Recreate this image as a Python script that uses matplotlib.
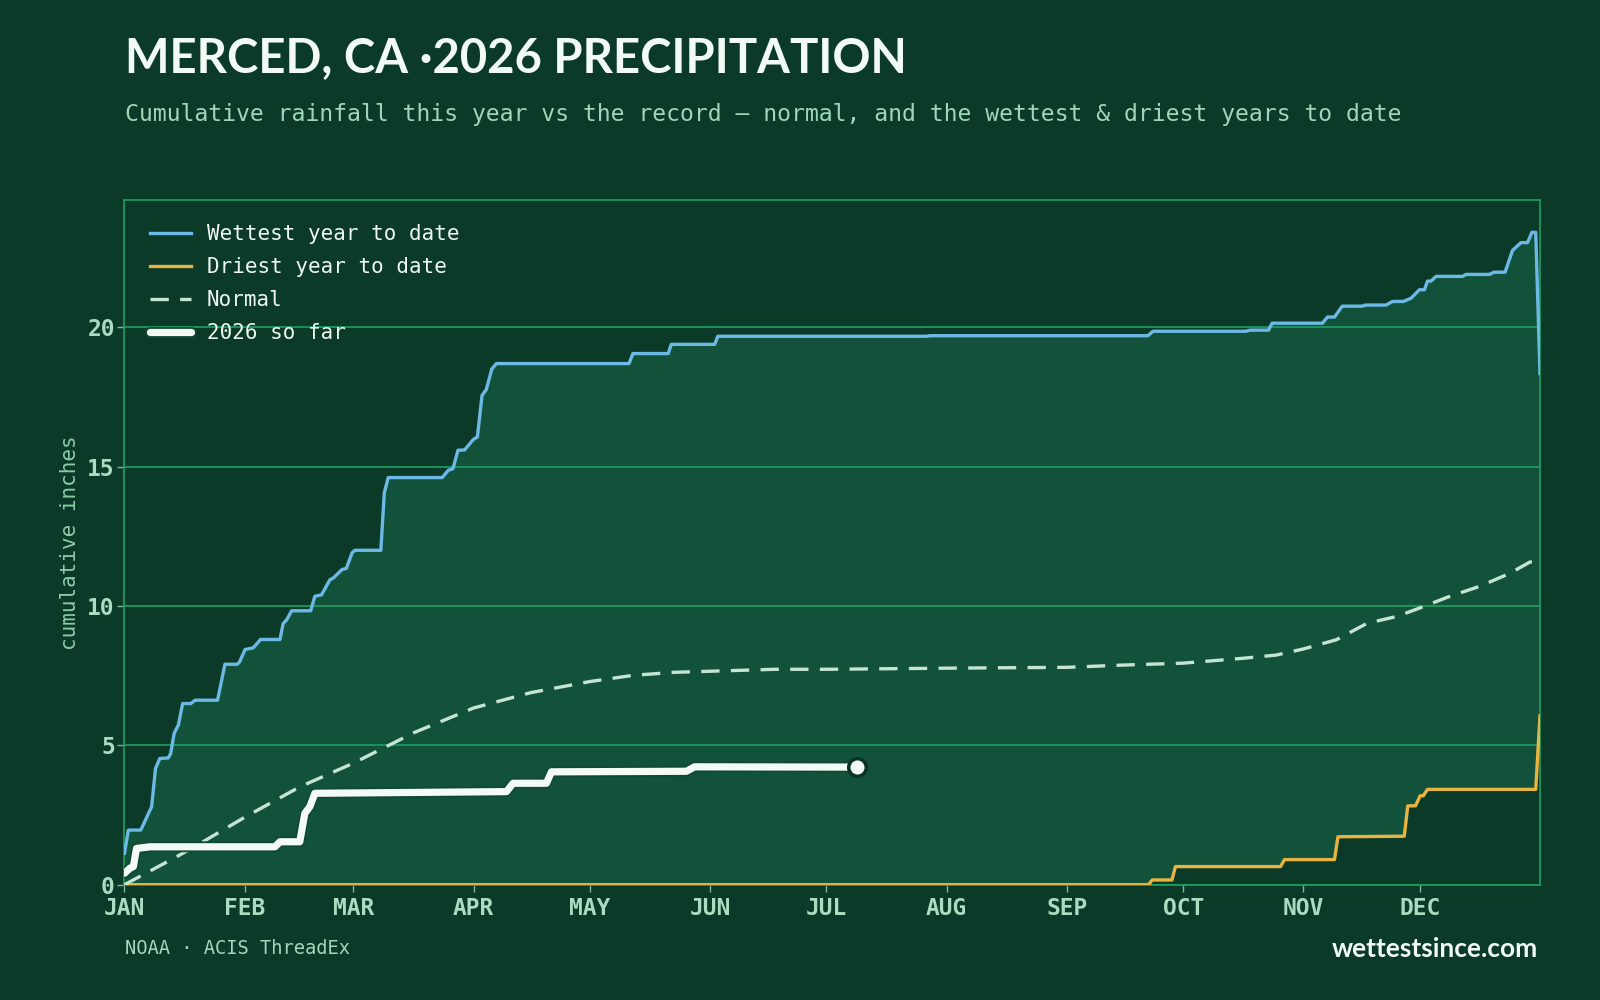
import matplotlib
matplotlib.use("Agg")
import matplotlib.pyplot as plt
import matplotlib.patheffects as pe
import numpy as np

# ---------------- data (day of year, cumulative inches) ----------------
wet_days = [0, 1.0, 4.2, 7.0, 8.0, 9.1, 11.3, 11.9, 12.8, 13.9, 15.0, 17.1, 18.2, 24.0,
            25.9, 29.1, 29.7, 31.1, 33.2, 35.1, 40.1, 40.9, 41.8, 43.1, 48.0, 49.1, 50.8,
            53.0, 53.8, 56.1, 57.2, 58.7, 59.4, 66.1, 67.0, 68.0, 81.9, 83.5, 84.7, 86.0,
            87.7, 89.9, 91.0, 92.2, 93.3, 94.7, 95.9, 130.1, 131.1, 140.2, 141.0, 152.2,
            153.0, 206.7, 207.8, 263.9, 265.2, 289.2, 290.2, 295.0, 295.9, 308.9, 310.2,
            312.0, 314.0, 319.2, 320.0, 325.3, 327.0, 329.8, 331.8, 333.9, 335.2, 336.0,
            336.9, 338.2, 345.1, 345.9, 351.9, 353.2, 356.0, 357.9, 360.1, 361.8, 362.9,
            363.9, 365]
wet_vals = [1.13, 1.96, 1.96, 2.80, 4.17, 4.53, 4.55, 4.70, 5.43, 5.73, 6.50, 6.50, 6.62, 6.62,
            7.91, 7.91, 8.00, 8.44, 8.50, 8.80, 8.80, 9.37, 9.50, 9.83, 9.83, 10.35, 10.40,
            10.95, 11.00, 11.31, 11.35, 11.91, 12.00, 12.00, 14.06, 14.61, 14.61, 14.87, 14.93, 15.59,
            15.60, 15.97, 16.07, 17.56, 17.77, 18.50, 18.70, 18.70, 19.06, 19.06, 19.39, 19.39,
            19.68, 19.68, 19.70, 19.70, 19.86, 19.86, 19.90, 19.90, 20.15, 20.15, 20.37,
            20.37, 20.76, 20.76, 20.80, 20.80, 20.93, 20.93, 21.05, 21.35, 21.35, 21.66,
            21.66, 21.83, 21.83, 21.90, 21.90, 21.98, 21.98, 22.76, 23.04, 23.04, 23.41,
            23.41, 18.34]

dry_days = [0, 264.1, 265.0, 270.1, 271.0, 298.1, 299.1, 312.0, 312.9, 330.0, 330.9, 332.9,
            334.1, 334.9, 336.0, 363.9, 365]
dry_vals = [0, 0, 0.17, 0.17, 0.65, 0.65, 0.90, 0.90, 1.72, 1.74, 2.83, 2.83,
            3.19, 3.19, 3.42, 3.42, 6.06]

norm_days = [0, 13.4, 19.5, 31, 45.2, 59, 74.7, 90, 104.7, 120, 131, 141.5, 151, 167.8, 181,
             212, 243, 257.2, 273, 288.8, 297, 304, 312.5, 320.4, 328.2, 334, 341.4, 349.3,
             357.2, 362.4, 365]
norm_vals = [0, 1.0, 1.48, 2.42, 3.51, 4.36, 5.46, 6.34, 6.89, 7.29, 7.51, 7.62, 7.66, 7.73, 7.73,
             7.77, 7.80, 7.88, 7.95, 8.13, 8.24, 8.46, 8.79, 9.38, 9.63, 9.93, 10.33, 10.70,
             11.17, 11.58, 11.54]

cur_days = [0, 1.4, 2.3, 3.1, 6.6, 38.8, 40.1, 45.2, 46.5, 47.8, 49.1, 98.5, 100.2, 108.8,
            110.1, 144.9, 147.0, 188.8]
cur_vals = [0.41, 0.59, 0.65, 1.30, 1.36, 1.36, 1.54, 1.54, 2.56, 2.80, 3.28, 3.34, 3.64, 3.64,
            4.05, 4.07, 4.23, 4.22]

month_starts = [0, 31, 59, 90, 120, 151, 181, 212, 243, 273, 304, 334]
month_labels = ["JAN", "FEB", "MAR", "APR", "MAY", "JUN", "JUL", "AUG", "SEP", "OCT", "NOV", "DEC"]
y_ticks = [0, 5, 10, 15, 20]

# ---------------- style ----------------
BG = "#0b3a29"
FILL = "#13523a"
GRID = "#1f9e63"
TICK = "#a9dcc0"
WET = "#6db9e6"
DRY = "#e7b443"
NORM = "#c6e4d2"
CUR = "#f4fbf5"
MONO = "DejaVu Sans Mono"

fig = plt.figure(figsize=(16, 10), dpi=100, facecolor=BG)
ax = fig.add_axes([0.0778, 0.1153, 0.9625 - 0.0778, 0.8 - 0.1153])
ax.set_facecolor(BG)

# band between wettest and driest
ax.fill(np.concatenate([wet_days, dry_days[::-1]]),
        np.concatenate([wet_vals, dry_vals[::-1]]),
        color=FILL, lw=0, zorder=1)

ax.set_axisbelow('line')
ax.yaxis.grid(True, color=GRID, lw=1.2)
ax.xaxis.grid(False)

ax.plot(wet_days, wet_vals, color=WET, lw=2.4, label="Wettest year to date", zorder=3,
        solid_joinstyle='round')
ax.plot(dry_days, dry_vals, color=DRY, lw=2.4, label="Driest year to date", zorder=3,
        solid_joinstyle='round')
ax.plot(norm_days, norm_vals, color=NORM, lw=2.4, ls=(0, (5.5, 3.4)), label="Normal", zorder=3)
ax.plot(cur_days, cur_vals, color=CUR, lw=5.2, label="2026 so far", zorder=4,
        solid_joinstyle='round', solid_capstyle='round',
        path_effects=[pe.Stroke(linewidth=7.8, foreground="#0e4a33"), pe.Normal()])
ax.scatter([cur_days[-1]], [cur_vals[-1]], s=160, color=CUR, edgecolor="#0a3325",
           linewidth=2.5, zorder=5)

ax.set_xlim(0, 365)
ax.set_ylim(0, 24.57)
ax.set_xticks(month_starts)
ax.set_xticklabels(month_labels)
ax.set_yticks(y_ticks)
ax.set_yticklabels([str(v) for v in y_ticks])
for lab in ax.get_xticklabels() + ax.get_yticklabels():
    lab.set_fontfamily(MONO)
    lab.set_fontweight("bold")
    lab.set_fontsize(16.5)
    lab.set_color(TICK)
ax.tick_params(axis='both', colors="#7fb89a", length=5, width=1, labelcolor=TICK)
ax.tick_params(axis='x', pad=4)
ax.tick_params(axis='y', pad=2)
for s in ax.spines.values():
    s.set_color(GRID)
    s.set_linewidth(1.2)

ax.set_ylabel("cumulative inches", family=MONO, fontsize=15, color="#8fcaa8", labelpad=5)

leg = ax.legend(loc="upper left", bbox_to_anchor=(0.003, 0.995), frameon=False,
                prop={"family": MONO, "size": 15}, handlelength=2.0, handletextpad=0.75,
                labelspacing=0.62, borderaxespad=0.6)
for t in leg.get_texts():
    t.set_color("#eef7f0")

fig.text(0.078, 0.942, "MERCED, CA ·2026 PRECIPITATION", family="Lato", weight="bold",
         fontsize=34, color="#f1faf3", va="center", ha="left")
fig.text(0.078, 0.885, "Cumulative rainfall this year vs the record — normal, and the wettest & driest years to date",
         family=MONO, fontsize=16.7, color="#9fd6b7", va="center", ha="left")
fig.text(0.078, 0.052, "NOAA · ACIS ThreadEx", family=MONO, fontsize=13.5, color="#a6d6ba",
         va="center", ha="left")
fig.text(0.9615, 0.051, "wettestsince.com", family="Lato", weight="bold", fontsize=19,
         color="#f1faf3", va="center", ha="right")

fig.savefig("out.png", dpi=100, facecolor=BG)
